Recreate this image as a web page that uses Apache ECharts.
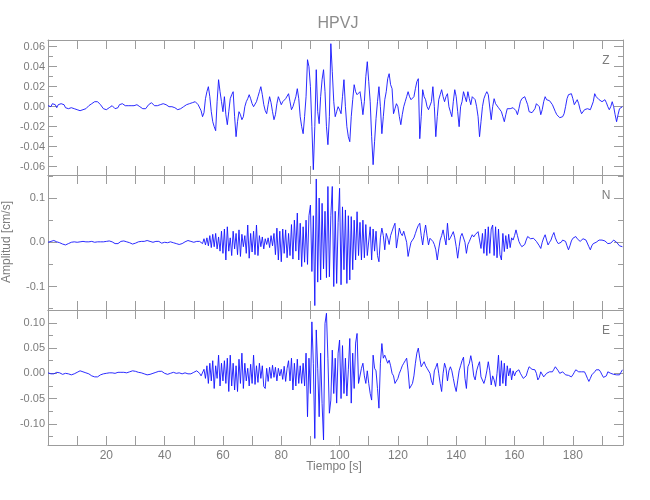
<!DOCTYPE html>
<html><head><meta charset="utf-8">
<script src="https://cdn.jsdelivr.net/npm/echarts@6/dist/echarts.min.js"></script>
<style>html,body{margin:0;padding:0;background:#fff}#c{width:650px;height:500px}</style>
</head><body><div id="c"></div>
<script>
const chartTitle = 'HPVJ';
const channelNames = ['Z', 'N', 'E'];
const xAxisTitle = 'Tiempo [s]';
const yAxisTitle = 'Amplitud [cm/s]';
const sampleStart = 0;   // s
const sampleStep = 0.5;  // s
// amplitudes in units of 0.001 cm/s, one row per 10 s
const zAmp = [
1,2,0,3,1,2,-1,2,0,3,1,2,-1,1,-2,0,-1,1,-2,-1,
-3,-2,-4,-2,-3,-1,-2,0,1,2,3,4,5,6,5,4,2,0,-2,-3,
-3,-2,-1,0,1,0,-2,-3,-1,2,4,3,2,1,0,1,0,1,0,1,
1,2,1,0,-1,-2,-3,-2,0,2,4,4,2,1,0,1,1,2,2,3,
3,2,1,0,1,0,-1,-1,-2,-3,-3,-2,-1,0,1,2,2,3,3,4,
4,5,4,2,0,-4,-10,-6,8,15,20,10,-5,-15,-20,-24,5,27,15,5,
-5,10,-8,-18,-5,8,12,15,-10,-30,-15,-5,-8,-13,-10,0,5,8,12,8,
3,0,-2,5,10,15,20,12,2,-4,-7,2,10,4,-5,-13,-8,3,10,6,
2,5,3,8,10,13,5,-3,0,5,10,18,8,-10,-20,-27,-10,10,47,40,
20,-20,-63,-20,37,-5,-17,10,27,37,15,-20,-38,-10,63,35,5,-10,-5,0,
-3,-7,10,27,0,-20,-30,-35,-10,7,22,15,12,14,15,5,-8,5,30,45,
25,5,-30,-58,-35,-12,5,20,0,-27,-10,7,15,28,33,22,18,-7,-2,3,
0,-10,-18,-8,0,5,10,15,10,7,5,10,18,25,28,-32,-10,17,10,7,
0,-3,-5,5,20,0,-30,-10,7,12,17,10,5,10,13,0,-5,-10,5,17,
10,-5,-20,0,5,15,10,5,15,8,2,10,12,7,0,-10,-30,-15,0,8,
12,15,12,10,-13,0,8,3,2,-1,-2,-5,-10,-15,-8,-2,0,-2,-3,-1,
0,-4,-8,-2,5,8,9,10,6,2,-5,-4,-6,-7,-2,3,5,0,-8,-3,
5,10,7,5,6,7,2,0,-5,-8,-10,-11,-13,-10,-7,0,8,12,12,13,
8,2,4,7,3,-3,-7,-5,-3,-2,-2,-1,-3,-2,5,13,10,8,7,7,
5,5,7,4,0,-3,0,5,0,-8,-15,-8,-2,0,0];
const nAmp = [
0,1,2,3,4,3,1,0,-1,-2,-4,-5,-6,-5,-3,-1,0,1,1,0,
0,0,1,1,2,2,1,0,1,2,2,1,0,1,1,2,1,0,1,2,
2,2,3,2,1,-1,-3,-4,-3,-1,2,3,3,2,1,0,-1,-3,-4,-3,
-2,0,1,2,2,1,2,3,4,3,2,1,0,1,2,3,2,0,-2,-1,
0,0,-1,0,1,0,-1,-2,-3,-4,-5,-4,-3,-1,1,3,4,3,2,1,
0,1,2,4,2,5,-3,8,-6,10,-8,15,-12,18,-10,20,-15,12,-20,25,
-25,30,-40,35,-20,10,-30,25,-15,20,-28,28,-32,18,-10,15,-25,39,-36,20,
-22,25,-28,39,-30,15,-10,12,-15,8,-5,10,-12,15,-8,20,-28,32,-40,25,
-44,30,-25,28,-35,20,-30,40,-38,50,-20,66,-40,43,-55,35,-45,50,-50,60,
84,-66,60,-143,143,-90,100,-85,88,-60,70,-80,126,-78,60,126,-100,70,-93,45,
122,-96,80,-62,73,-93,60,-85,58,-62,50,-40,69,-30,45,-40,50,-35,40,-30,
-30,35,-40,30,-20,25,-30,-44,10,32,15,-17,20,10,-5,15,25,35,43,-13,
10,32,20,15,25,28,0,-32,-15,0,5,10,20,30,38,43,15,-6,20,39,
15,-6,9,13,2,-5,-17,-40,-15,5,15,28,10,-6,43,5,10,17,24,10,
-10,-36,-10,13,20,24,0,-25,-5,2,10,17,12,17,20,24,5,-14,20,-25,
30,-30,35,-25,30,39,-30,35,-35,30,-28,-40,20,-21,15,-15,18,-12,10,5,
15,28,15,2,-5,-10,-14,-5,5,13,10,8,6,9,5,2,-2,-8,-14,0,
10,17,5,-6,0,5,15,22,10,2,-3,-6,0,5,4,2,-8,-17,-8,3,
9,11,13,8,4,2,5,8,9,5,2,-10,-17,-8,-3,-2,0,3,5,4,
5,5,3,0,-3,-6,-2,2,5,3,0,-2,-8,-11,-10];
const eAmp = [
1,0,-1,-2,-1,1,2,3,1,-1,-2,-1,0,1,-1,-2,-3,-2,-1,0,
2,4,5,4,3,2,1,0,-1,-3,-5,-6,-7,-8,-7,-5,-3,-2,-1,0,
0,1,1,2,1,0,0,1,2,2,2,3,2,1,1,2,3,4,5,4,
4,3,2,1,1,0,-1,-2,-3,-3,-2,-1,0,1,2,3,4,5,4,2,
0,-1,-2,-1,0,1,2,1,0,0,1,0,-1,0,1,0,-1,-2,-1,0,
2,4,5,3,0,-5,-3,8,-10,15,-20,20,-15,25,-30,15,-10,36,-25,20,
-15,25,-20,30,-36,36,-25,20,-33,15,-36,28,-20,40,-30,20,-15,10,-25,18,
-20,36,-22,15,-18,20,-10,15,-26,-30,10,-16,12,-10,16,-8,12,-15,10,-5,
8,-12,14,-16,10,25,-15,30,-33,20,-25,28,-20,15,-20,20,-25,40,-86,30,
-40,102,20,-129,86,10,-86,40,-60,-132,99,119,30,-79,-53,46,-40,30,-59,40,
66,-50,55,-40,30,-45,7,69,-59,40,-30,60,79,-20,-17,10,20,-5,-20,5,
-20,-40,-53,36,10,5,-30,-69,20,59,30,36,36,20,26,15,0,-5,-20,-23,
-10,0,7,15,20,25,30,5,-30,-25,-20,-5,20,40,50,30,13,18,23,15,
10,13,0,-15,-23,5,12,20,0,-20,-36,0,20,10,-15,5,13,5,-10,-25,
-36,-15,5,15,25,32,-10,-30,13,20,35,20,-5,-13,5,15,23,-7,-10,-20,
-10,5,23,5,-23,-5,-13,-26,0,36,-25,25,-20,20,-25,15,-5,10,-13,5,
-5,3,5,7,0,-5,-10,-13,-5,5,13,10,8,5,7,0,-13,-8,3,0,
-7,-5,0,3,3,5,3,8,13,15,5,0,2,3,0,-3,-2,-4,-6,-7,
-3,2,7,5,3,2,3,4,3,-3,-10,-16,-10,-3,-1,3,7,10,7,3,
-3,-8,-10,-5,3,2,0,-1,-2,-3,-3,-4,-3,2,7];

const xTickValues = [10,20,30,40,50,60,70,80,90,100,110,120,130,140,150,160,170,180,190];
const xLabelValues = [20,40,60,80,100,120,140,160,180];
const zMajor = [-0.06,-0.04,-0.02,0,0.02,0.04,0.06];
const zMinor = [-0.05,-0.03,-0.01,0.01,0.03,0.05];
const nMajor = [-0.1,0,0.1];
const nMinor = [-0.15,-0.05,0.05,0.15];
const eMajor = [-0.1,-0.05,0,0.05,0.1];
const eMinor = [-0.125,-0.075,-0.025,0.025,0.075,0.125];

const AX = '#9c9c9c', TXT = '#7c7c7c', LINE = '#1414ff';
const FONT = "'Liberation Sans', Arial, sans-serif";
const panels = [
  {amp: zAmp, min: -0.0683, max: 0.0667, major: zMajor, minor: zMinor, dec: 2, lblY: 61},
  {amp: nAmp, min: -0.153, max: 0.152, major: nMajor, minor: nMinor, dec: 1, lblY: 196},
  {amp: eAmp, min: -0.142, max: 0.1255, major: eMajor, minor: eMinor, dec: 2, lblY: 331}
];
const PT = 40, PH = 135;
const grid = [], xAxis = [], yAxis = [], series = [];
panels.forEach((p, i) => {
  grid.push({left: 48, right: 27, top: PT + PH * i, height: PH});
  ['bottom', 'top'].forEach(pos => {
    xAxis.push({
      gridIndex: i, type: 'value', position: pos, min: 0, max: 197.2,
      axisLine: {show: true, onZero: false, lineStyle: {color: AX, width: 1}},
      axisTick: {show: true, inside: true, length: 9, customValues: xTickValues, lineStyle: {color: AX}},
      axisLabel: (pos === 'bottom' && i === 2) ?
        {show: true, customValues: xLabelValues, color: TXT, fontSize: 12, fontFamily: FONT, margin: 5} : {show: false},
      splitLine: {show: false}
    });
  });
  [['left', true], ['left', false], ['right', true], ['right', false]].forEach(([pos, major]) => {
    yAxis.push({
      gridIndex: i, type: 'value', position: pos, min: p.min, max: p.max,
      axisLine: {show: major, onZero: false, lineStyle: {color: AX, width: 1}},
      axisTick: {show: true, inside: true, length: major ? 9 : 5,
                 customValues: major ? p.major : p.minor, lineStyle: {color: AX}},
      axisLabel: (pos === 'left' && major) ?
        {show: true, customValues: p.major, color: TXT, fontSize: 11, fontFamily: FONT, margin: 3,
         formatter: v => Number(v).toFixed(p.dec)} : {show: false},
      splitLine: {show: false}
    });
  });
  series.push({
    type: 'line', xAxisIndex: 2 * i, yAxisIndex: 4 * i, showSymbol: false, symbol: 'none',
    sampling: null, animation: false,
    lineStyle: {color: LINE, width: 0.9},
    data: p.amp.map((v, k) => [sampleStart + k * sampleStep, v / 1000])
  });
});

const graphic = [
  {type: 'text', x: 338, y: 24, style: {text: chartTitle, align: 'center', verticalAlign: 'middle',
    fill: '#8c8c8c', font: '16px ' + FONT}},
  {type: 'text', x: 7, y: 242, rotation: Math.PI / 2, style: {text: yAxisTitle, align: 'center',
    verticalAlign: 'middle', fill: TXT, font: '12px ' + FONT}},
  {type: 'text', x: 334, y: 467, style: {text: xAxisTitle, align: 'center', verticalAlign: 'middle',
    fill: TXT, font: '12px ' + FONT}}
];
panels.forEach((p, i) => graphic.push({type: 'text', x: 606, y: p.lblY,
  style: {text: channelNames[i], align: 'center', verticalAlign: 'middle', fill: TXT, font: '12px ' + FONT}}));

const chart = echarts.init(document.getElementById('c'), null, {renderer: 'canvas'});
chart.setOption({animation: false, backgroundColor: '#fff', grid, xAxis, yAxis, series, graphic});
</script></body></html>
